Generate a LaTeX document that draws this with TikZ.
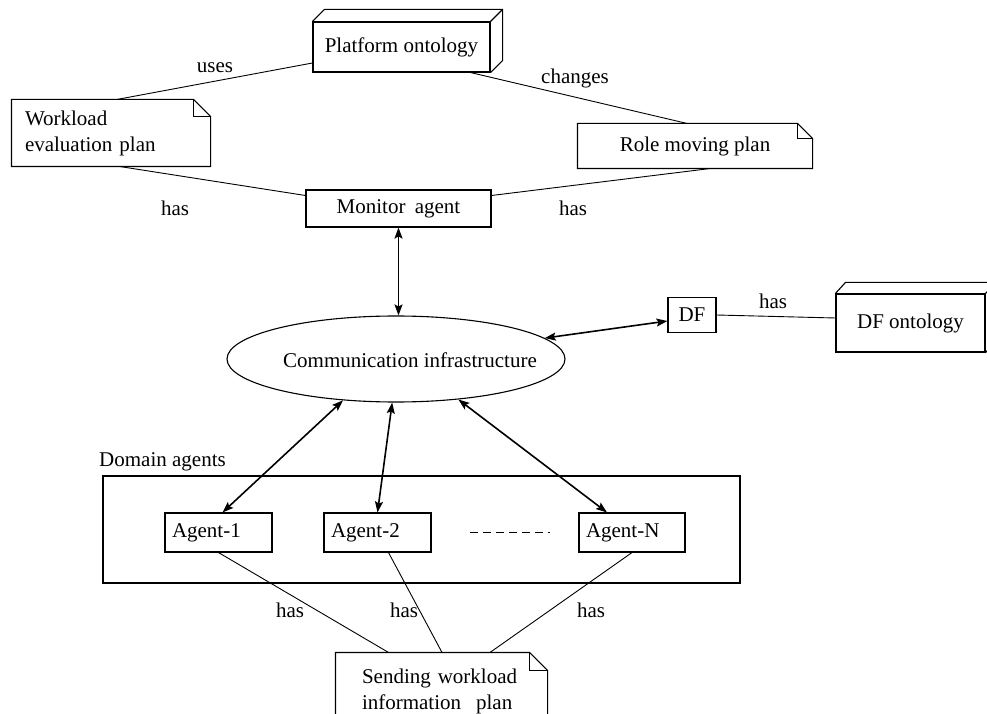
\documentclass[tikz,border=0pt]{standalone}
\usepackage{fontspec}
\setmainfont{Liberation Serif}
\usetikzlibrary{arrows.meta,shapes.geometric,calc}
\newcommand\mynote[2]{%
  \draw[line width=1.1pt] (#1.north west) -- ([xshift=-#2]#1.north east) -- ([yshift=-#2]#1.north east) -- (#1.south east) -- (#1.south west) -- cycle;
  \draw[line width=1.1pt] ([xshift=-#2]#1.north east) |- ([yshift=-#2]#1.north east);}
\newcommand\mycube[3]{%
  \draw[line width=1.1pt] (#1.north west) -- ++(#2,#3) -- ([shift={(#2,#3)}]#1.north east) -- ([shift={(#2,#3)}]#1.south east) -- (#1.south east);
  \draw[line width=1.1pt] (#1.north east) -- ++(#2,#3);}
\begin{document}
\begin{tikzpicture}[x=1pt,y=1pt,
  txt/.style={font=\fontsize{21}{26}\selectfont, inner sep=0pt},
  box/.style={txt, draw, line width=1.1pt},
  shp/.style={txt, line width=1.1pt},
  conn/.style={line width=0.9pt},
  dbl/.style={line width=1.6pt, {Stealth[length=11pt,width=8pt,inset=2pt]}-{Stealth[length=11pt,width=8pt,inset=2pt]}}
]
\useasboundingbox (0,0) rectangle (987,713);
\clip (0,0) rectangle (987,713);

% nodes
\node[box, minimum width=177pt, minimum height=50pt] (plat) at (401.5,666) {Platform ontology};
\node[shp, minimum width=198pt, minimum height=66pt, text width=172pt, align=left] (work) at (111,580) {Workload\\evaluation plan};
\node[shp, minimum width=234pt, minimum height=44pt] (role) at (695,567) {Role moving plan};
\node[box, minimum width=185pt, minimum height=37pt] (mon) at (398.5,504.5) {Monitor\hspace{4pt} agent};
\node[ellipse, draw, line width=1.1pt, inner sep=0pt, minimum width=338pt, minimum height=86pt] (ell) at (396,354) {};
\node[txt] (elltxt) at (410,353) {Communication infrastructure};
\node[box, minimum width=48pt, minimum height=35pt] (df) at (692,398) {DF};
\node[box, minimum width=149pt, minimum height=58pt] (dfo) at (910.5,390) {DF ontology};
\node[draw, line width=1.1pt, minimum width=637pt, minimum height=107pt, inner sep=0pt] (dom) at (421.5,183.5) {};
\node[txt, anchor=west] (domlbl) at (99,251) {Domain agents};
\node[box, minimum width=107pt, minimum height=39pt, text width=93pt, align=left] (a1) at (218.5,180.5) {Agent-1};
\node[box, minimum width=107pt, minimum height=39pt, text width=93pt, align=left] (a2) at (377.5,180.5) {Agent-2};
\node[box, minimum width=106pt, minimum height=39pt, text width=92pt, align=left] (aN) at (632,180.5) {Agent-N};
\coordinate (d1) at (470,181);
\coordinate (d2) at (550,181);
\node[shp, minimum width=211pt, minimum height=76pt, text width=159pt, align=left] (snd) at (441.5,22) {Sending workload\\information\hspace{8pt} plan};

% outlines
\mynote{work}{17pt}
\mynote{role}{15pt}
\mynote{snd}{18pt}
\mycube{plat}{12}{12}
\mycube{dfo}{10}{11}

% connectors
\draw[conn] ([xshift=6pt]work.north) -- ([yshift=-16pt]plat.west);
\draw[conn] ([xshift=-20pt]plat.south east) -- ([xshift=-8pt]role.north);
\draw[conn] ([xshift=9pt]work.south) -- ([yshift=13pt]mon.west);
\draw[conn] ([xshift=15pt]role.south) -- ([yshift=13pt]mon.east);
\draw[dbl] (mon.south) -- (mon.south |- ell.north);
\draw[dbl] (ell.8) -- ([yshift=-6pt]df.west);
\draw[conn] (df.east) -- ([yshift=5pt]dfo.west);
\draw[dbl] (ell.218) -- ([xshift=4pt]a1.north);
\draw[dbl] (ell.265) -- (a2.north);
\draw[dbl] (ell.327) -- ([xshift=-25pt]aN.north);
\draw[conn, dash pattern=on 8pt off 5pt] (d1) -- (d2);
\draw[conn] (a1.south) -- ([xshift=-53pt]snd.north);
\draw[conn] ([xshift=11pt]a2.south) -- ([xshift=0.5pt]snd.north);
\draw[conn] (aN.south) -- ([xshift=48.5pt]snd.north);

% labels
\node[txt] (l1) at (215,645) {uses};
\node[txt] (l2) at (575,635) {changes};
\node[txt] (l3) at (175,505) {has};
\node[txt] (l4) at (573,505) {has};
\node[txt] (l5) at (773,412) {has};
\node[txt] (l6) at (290,103) {has};
\node[txt] (l7) at (404,103) {has};
\node[txt] (l8) at (591,103) {has};
\end{tikzpicture}
\end{document}
